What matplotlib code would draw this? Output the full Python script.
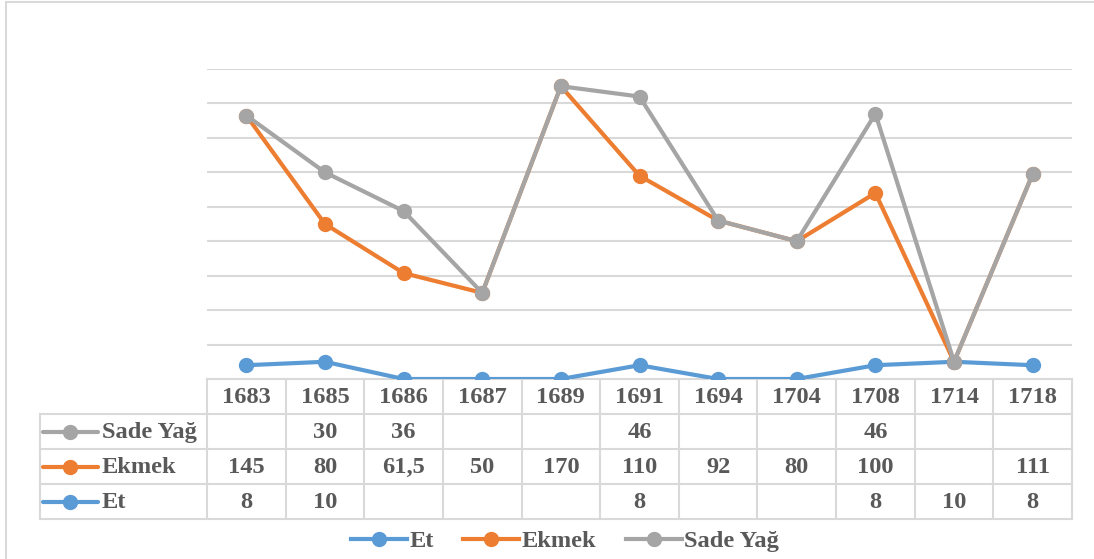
import numpy as np
import matplotlib
matplotlib.use("Agg")
from matplotlib import pyplot as plt
from matplotlib.lines import Line2D
from matplotlib.patches import Rectangle
from matplotlib.transforms import blended_transform_factory

# data (blank cells = None)
years = ['1683', '1685', '1686', '1687', '1689', '1691', '1694', '1704', '1708', '1714', '1718']
et = [8, 10, None, None, None, 8, None, None, 8, 10, 8]
ekmek = [145, 80, 61.5, 50, 170, 110, 92, 80, 100, None, 111]
sade_yag = [None, 30, 36, None, None, 46, None, None, 46, None, None]

series_names = ['Et', 'Ekmek', 'Sade Yağ']
series_colors = ['#5B9BD5', '#ED7D31', '#A5A5A5']

TXT = '#595959'
GRID = '#D9D9D9'
FONT = 'Liberation Serif'
FS = 17.6


def fmt(v):
    if v is None:
        return ''
    if float(v).is_integer():
        return str(int(v))
    return str(v).replace('.', ',')


fig = plt.figure(figsize=(10.94, 5.59), dpi=100)
W, H = 1094, 559

# chart border
fig.patches.append(Rectangle((5.5 / W, -0.1), 1.2, 1.1 - 1.5 / H, transform=fig.transFigure,
                             fill=False, edgecolor=GRID, linewidth=1.5))

ax = fig.add_axes([207 / W, 1 - 379 / H, 865 / W, 310 / H])
n = len(years)
x = np.arange(n)
ax.set_xlim(-0.5, n - 0.5)
ax.set_ylim(0, 180)
ax.set_yticks(np.arange(20, 181, 20))
ax.yaxis.grid(True, color=GRID, linewidth=1.5)
ax.set_axisbelow(True)
ax.tick_params(left=False, bottom=False, labelleft=False, labelbottom=False)
for s in ax.spines.values():
    s.set_visible(False)

# stacked line chart (blanks count as zero)
vals = [np.array([0 if v is None else v for v in s], dtype=float) for s in (et, ekmek, sade_yag)]
stacked = np.cumsum(vals, axis=0)
for i in range(3):
    ax.plot(x, stacked[i], color=series_colors[i], linewidth=3.0, marker='o',
            markersize=10, zorder=3 + i, solid_capstyle='round')

# data table under the plot
tr = blended_transform_factory(ax.transData, ax.transAxes)
rh = 35 / 310
colw = 865 / n


def px2x(px):
    return -0.5 + (px - 207) / colw


xl = px2x(40)
lk = dict(color=GRID, linewidth=1.5, transform=tr, clip_on=False)
ax.plot([-0.5, n - 0.5], [0, 0], **lk)
for r in range(1, 5):
    ax.plot([xl, n - 0.5], [-r * rh, -r * rh], **lk)
for c in range(n + 1):
    ax.plot([c - 0.5, c - 0.5], [0, -4 * rh], **lk)
ax.plot([xl, xl], [-rh, -4 * rh], **lk)

tk = dict(transform=tr, clip_on=False, color=TXT, fontsize=FS, fontweight='bold',
          family=FONT, va='center')
for i, yr in enumerate(years):
    ax.text(i, -0.53 * rh, yr, ha='center', **tk)

rows = [(sade_yag, 2), (ekmek, 1), (et, 0)]
for r, (data, si) in enumerate(rows):
    yc = -(r + 1.5) * rh
    for i, v in enumerate(data):
        ax.text(i, yc - 0.03 * rh, fmt(v), ha='center', **tk)
    ax.plot([px2x(43), px2x(98)], [yc, yc], color=series_colors[si], linewidth=3.0,
            transform=tr, clip_on=False, solid_capstyle='round')
    ax.plot([px2x(70)], [yc], marker='o', markersize=10, color=series_colors[si],
            transform=tr, clip_on=False)
    ax.text(px2x(102), yc - 0.03 * rh, series_names[si], ha='left', **tk)

# legend
handles = [Line2D([], [], color=c, linewidth=3.0, marker='o', markersize=10) for c in series_colors]
fig.legend(handles, series_names, loc='center', bbox_to_anchor=(565 / W, 1 - 541 / H),
           ncol=3, frameon=False, handlelength=2.3, handletextpad=0.1, columnspacing=1.2,
           prop={'family': FONT, 'size': FS, 'weight': 'bold'}, labelcolor=TXT)

fig.savefig('out.png', dpi=100)
